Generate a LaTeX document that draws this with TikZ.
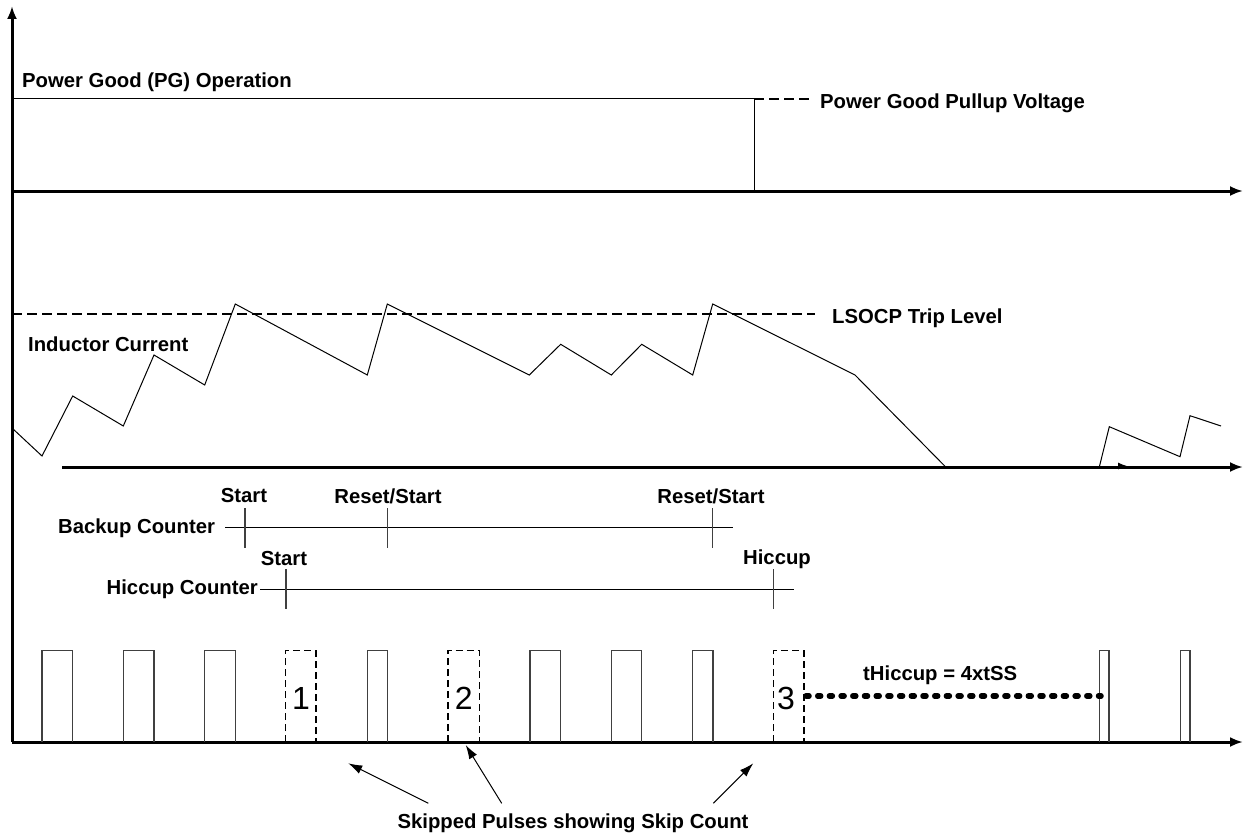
\documentclass[tikz,border=0pt]{standalone}
\usepackage{fontspec}
\setmainfont{Liberation Sans}
\usetikzlibrary{arrows.meta}
\begin{document}
\begin{tikzpicture}[x=1pt,y=-1pt,
  axis/.style={line width=3pt,-{Latex[length=13pt,width=10pt]}},
  wave/.style={line width=1pt},
  lbl/.style={font=\fontsize{20.3}{23}\selectfont\bfseries, inner sep=0pt},
  num/.style={font=\fontsize{32}{36}\selectfont, inner sep=0pt},
  pulse/.style={draw=black!75, line width=1.2pt},
  skipbox/.style={draw, line width=1.5pt, dash pattern=on 7pt off 4pt},
  trip/.style={line width=2pt, dash pattern=on 10pt off 5pt},
  tickmark/.style={line width=1.2pt, draw=black!75},
  cnt/.style={line width=1pt},
  pointer/.style={line width=1pt,-{Latex[length=14pt,width=9pt]}},
  dotline/.style={line width=5.5pt, line cap=round, dash pattern=on 3pt off 8.7pt}
]
\useasboundingbox (0,0) rectangle (1245,840);

% axes
\coordinate (O) at (12,742);
\coordinate (Ytop) at (12,6);
\coordinate (PGa) at (12,191);
\coordinate (PGb) at (1243,191);
\coordinate (ILa) at (62,467);
\coordinate (ILb) at (1243,467);
\coordinate (Xb) at (1243,742);
\draw[axis] (O) -- (Ytop);
\draw[axis] (PGa) -- (PGb);
\draw[axis] (ILa) -- (ILb);
\draw[axis] (O) -- (Xb);

% PG waveform
\draw[wave] (12,99) -- (754,99) -- (754,191);
\draw[trip] (754,99) -- (812,99);
\node[lbl,anchor=west] (pg) at (22,82) {Power Good (PG) Operation};
\node[lbl,anchor=west] (pull) at (820,103) {Power Good Pullup Voltage};

% LSOCP trip level
\draw[trip] (12,314) -- (815,314);
\node[lbl,anchor=west] (trip) at (832,318) {LSOCP Trip Level};

% inductor current
\node[lbl,anchor=west] (il) at (28,344) {Inductor Current};
\draw[wave] (12,428) -- (42,456) -- (72.7,396) -- (123.3,426) -- (154,355)
  -- (204.7,385) -- (235.3,304) -- (367.3,375) -- (387.3,304) -- (529.3,375)
  -- (560.7,344.3) -- (611.3,375) -- (641.7,344.3) -- (692.7,375) -- (712.7,304)
  -- (855,375) -- (945.7,467);
\draw[wave] (1099.3,467) -- (1109.3,426.7) -- (1180,456.7) -- (1190,415.7) -- (1221,426);
\draw[line width=1pt,-{Latex[length=9pt,width=7pt]}] (1105,466) -- (1127,466);

% backup counter
\node[lbl,anchor=west] (bc) at (58,528) {Backup Counter};
\draw[cnt] (225,527.5) -- (733,527.5);
\draw[tickmark] (245,508) -- (245,548);
\draw[tickmark] (387.7,508) -- (387.7,548);
\draw[tickmark] (712.7,508) -- (712.7,548);
\node[lbl] (s1) at (244,496) {Start};
\node[lbl] (r1) at (388,496) {Reset/Start};
\node[lbl] (r2) at (711,496) {Reset/Start};

% hiccup counter
\node[lbl,anchor=east] (hc) at (258,589) {Hiccup Counter};
\draw[cnt] (260,589) -- (794,589);
\draw[tickmark] (286,569) -- (286,609);
\draw[tickmark] (773.3,569) -- (773.3,609);
\node[lbl] (s2) at (284,559) {Start};
\node[lbl] (hh) at (777,559) {Hiccup};

% pulses
\foreach \a/\b in {42/72.7,123.3/154,204.7/235.3,367.7/387.3,530/560.3,611.3/641.3,692.7/713,1099.3/1109,1180.7/1190}
  \draw[pulse] (\a,742) -- (\a,650.7) -- (\b,650.7) -- (\b,742);
\draw[skipbox] (285.7,742) -- (285.7,650.7) -- (316,650.7) -- (316,742);
\draw[skipbox] (448,742) -- (448,650.7) -- (479.3,650.7) -- (479.3,742);
\draw[skipbox] (773.7,742) -- (773.7,650.7) -- (804,650.7) -- (804,742);
\node[num] (n1) at (301,698) {1};
\node[num] (n2) at (463.7,698) {2};
\node[num] (n3) at (786,698) {3};

% hiccup time
\draw[dotline] (806,696) -- (1101,696);
\node[lbl,anchor=west] (th) at (863,675) {tHiccup = 4xtSS};

% skipped pulses pointers
\node[lbl] (sk) at (573,823) {Skipped Pulses showing Skip Count};
\coordinate (p1s) at (428.3,803.3);
\coordinate (p1e) at (348.3,763.3);
\coordinate (p2s) at (501.7,803.3);
\coordinate (p2e) at (465.7,745);
\coordinate (p3s) at (713.3,803.3);
\coordinate (p3e) at (753.3,763.3);
\draw[pointer] (p1s) -- (p1e);
\draw[pointer] (p2s) -- (p2e);
\draw[pointer] (p3s) -- (p3e);
\end{tikzpicture}
\end{document}
